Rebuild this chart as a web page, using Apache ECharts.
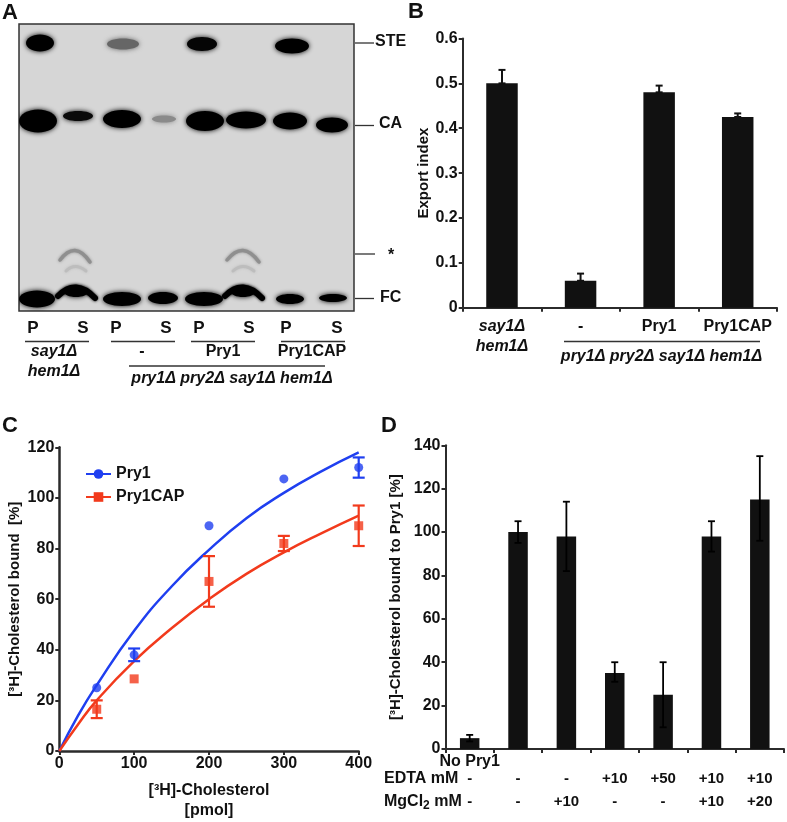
<!DOCTYPE html>
<html><head><meta charset="utf-8">
<style>html,body{margin:0;padding:0;background:#fff}#c{width:787px;height:822px}</style>
<script src="https://cdn.jsdelivr.net/npm/echarts@6/dist/echarts.min.js"></script>
</head><body><div id="c"></div>
<script>
// ---- Panel A: gel bands [lane position, migration, half width, half height, grey]
const gelBands = [
 [21,19,14,8.5,'#000'],[104,20,16,5.5,'#666'],[183,20,15,7,'#050505'],[273,22,17,7.5,'#000'],
 [19,97,19,11.5,'#000'],[59,92,15,5,'#0a0a0a'],[103,95,19,9,'#000'],[145,95,12,3.5,'#8a8a8a'],
 [186,97,19,10,'#000'],[227,96,20,8.5,'#000'],[271,97,17,8.5,'#000'],[313,101,16,7.5,'#000'],
 [18,275,18,8.5,'#000'],[103,275,19,7,'#000'],[144,274,15,6,'#000'],[185,275,19,7,'#000'],
 [271,275,14,5,'#000'],[314,274,14,4,'#000'],[57,268,12,5,'#000'],[224,268,12,5,'#000']
];
// [start x, start y, bend x, bend y, end x, end y, thickness, grey]
const gelArcs = [
 [39,272,57,254,76,274,6,'#000'],[206,272,224,254,243,274,6,'#000'],
 [41,234,56,240,70,240,0,'#d4d4d4'],
 [41,236,56,216,71,238,3.5,'#8f8f8f'],[208,236,224,216,240,238,3.5,'#8f8f8f'],
 [47,247,56,238,67,247,3,'#bdbdbd'],[214,247,224,238,235,247,3,'#bdbdbd']
];
const laneLabels = ['P','S','P','S','P','S','P','S'];
// ---- Panel B
const exportCategories = ['say1Δ\nhem1Δ','-','Pry1','Pry1CAP'];
const exportIndex = [0.5,0.06,0.48,0.425];
const exportErrorTop = [0.53,0.076,0.495,0.433];
const exportTicks = [0,0.1,0.2,0.3,0.4,0.5,0.6];
// ---- Panel C
const pry1Points = [[50,25],[100,38],[200,89],[300,107.5],[400,112]];
const pry1Errors = [[100,35.5,40.5],[400,108,116]];
const pry1Curve = [[0,0],[25,14],[50,26],[100,47.5],[150,65],[200,79.5],[250,92],[300,102],[350,110.5],[400,118]];
const capPoints = [[50,16.5],[100,28.5],[200,67],[300,82],[400,89]];
const capErrors = [[50,13,20],[200,57,77],[300,79,85],[400,81,97]];
const capCurve = [[0,0],[25,10.5],[50,20],[100,35.5],[150,48.5],[200,60],[250,70],[300,78.5],[350,86],[400,93]];
// ---- Panel D
const noPry1Labels = ['No Pry1','','','','','',''];
const edtaLabels = ['-','-','-','+10','+50','+10','+10'];
const mgLabels = ['-','-','+10','-','-','+10','+20'];
const boundValues = [5,100,98,35,25,98,115];
const boundErrLow = [3.5,95,82,31,10,91,96];
const boundErrHigh = [6.5,105,114,40,40,105,135];

const FONT = '"Liberation Sans", Arial, sans-serif';
const INK = '#111';
const BLUE = '#1f3ff0';
const RED = '#f23a1c';

function txt(x,y,text,o){o=o||{};return {type:'text',silent:true,x:x,y:y,style:Object.assign({
  text:text,fill:INK,font:(o.italic?'italic ':'')+'bold '+(o.size||16)+'px '+FONT,
  align:o.align||'center',verticalAlign:'middle'},o.rich?{rich:o.rich}:{})};}
function ln(x1,y1,x2,y2,w){return {type:'line',silent:true,shape:{x1,y1,x2,y2},style:{stroke:'#333',lineWidth:w||1.3}};}

const laneX=[33,83,116,166,199,249,286,337];
const graphics=[
 txt(2,13,'A',{align:'left',size:22}),txt(408,12,'B',{align:'left',size:22}),
 txt(2,426,'C',{align:'left',size:22}),txt(381,426,'D',{align:'left',size:22}),
 ln(355,43,374,43),ln(355,125.5,374,125.5),ln(355,254,375,254),ln(355,298.5,374,298.5),
 txt(375,42,'STE',{align:'left'}),txt(379,124,'CA',{align:'left'}),txt(391,256,'*'),txt(380,298,'FC',{align:'left'}),
 ln(25,341.5,89,341.5),ln(111,341.5,175,341.5),ln(191,341.5,255,341.5),ln(281,341.5,345,341.5),ln(129,366,325,366),
 txt(54,352,'say1Δ',{italic:1}),txt(54,372,'hem1Δ',{italic:1}),txt(142,352,'-'),txt(223,352,'Pry1'),txt(312,352,'Pry1CAP'),
 txt(232,379,'pry1Δ pry2Δ say1Δ hem1Δ',{italic:1}),
 ln(564,341.5,760,341.5),txt(661.5,357,'pry1Δ pry2Δ say1Δ hem1Δ',{italic:1}),
 txt(384,779,'EDTA mM',{align:'left'}),
 {type:'text',silent:true,x:384,y:802,style:{text:'MgCl{s|2} mM',fill:INK,font:'bold 16px '+FONT,align:'left',verticalAlign:'middle',
   rich:{s:{font:'bold 12px '+FONT,fill:INK,padding:[7,0,0,0]}}}}
];
laneLabels.forEach((t,i)=>graphics.push(txt(laneX[i],328,t,{size:17})));

const axisBase=(w)=>({axisLine:{show:true,onZero:false,lineStyle:{color:'#2b2b2b',width:w}},
  axisTick:{show:true,length:4,lineStyle:{color:'#2b2b2b',width:2}},splitLine:{show:false},
  axisLabel:{color:INK,fontFamily:FONT,fontWeight:'bold',fontSize:16,margin:5}});
const hiddenRow=(data,offset)=>({type:'category',gridIndex:3,position:'bottom',offset:offset,data:data,
  axisLine:{show:false},axisTick:{show:false},splitLine:{show:false},
  axisLabel:{color:INK,fontFamily:FONT,fontWeight:'bold',fontSize:15,interval:0,margin:5}});
const yName=(t,gap)=>({name:t,nameLocation:'middle',nameGap:gap,nameRotate:90,
  nameTextStyle:{color:INK,fontFamily:FONT,fontWeight:'bold',fontSize:15}});

function errorSeries(x,y,data,color,cap,w,z){
  return {type:'custom',xAxisIndex:x,yAxisIndex:y,z:z||5,silent:true,data:data,encode:{x:0,y:[1,2]},
   renderItem(p,api){
    const a=api.coord([api.value(0),api.value(1)]),b=api.coord([api.value(0),api.value(2)]);
    const st={stroke:color,lineWidth:w};
    const seg=(x1,y1,x2,y2)=>({type:'line',shape:{x1,y1,x2,y2},style:st});
    return {type:'group',children:[seg(a[0],a[1],b[0],b[1]),seg(b[0]-cap,b[1],b[0]+cap,b[1]),seg(a[0]-cap,a[1],a[0]+cap,a[1])]};
   }};
}

const option={
 animation:false,backgroundColor:'#fff',textStyle:{fontFamily:FONT},
 grid:[
  {left:19,top:24,width:335,height:287,show:true,backgroundColor:'#d6d6d6',borderColor:'#333',borderWidth:1.5},
  {left:462.7,top:38.5,width:314.3,height:269.2},
  {left:59.3,top:447.3,width:299.4,height:303.7},
  {left:445.5,top:445.3,width:338.5,height:303.7}
 ],
 legend:{orient:'vertical',left:80,top:461,itemWidth:25,itemHeight:12,itemGap:7,data:['Pry1','Pry1CAP'],
   textStyle:{color:INK,fontFamily:FONT,fontWeight:'bold',fontSize:16},selectedMode:false},
 xAxis:[
  {type:'value',gridIndex:0,min:0,max:335,show:false},
  Object.assign(axisBase(2),{type:'category',gridIndex:1,data:exportCategories,
    axisLabel:Object.assign(axisBase(2).axisLabel,{margin:9,interval:0,lineHeight:20,
      formatter:(v,i)=>i===0?v.split('\n').map(s=>'{i|'+s+'}').join('\n'):v,
      rich:{i:{fontStyle:'italic',fontWeight:'bold',fontSize:16,fontFamily:FONT,color:INK,lineHeight:20}}})}),
  Object.assign(axisBase(2.5),{type:'value',gridIndex:2,min:0,max:400,interval:100,
    name:'[³H]-Cholesterol\n[pmol]',nameLocation:'middle',nameGap:30,
    nameTextStyle:{color:INK,fontFamily:FONT,fontWeight:'bold',fontSize:16,lineHeight:20,verticalAlign:'top'}}),
  Object.assign(axisBase(2),{type:'category',gridIndex:3,data:noPry1Labels,
    axisLabel:Object.assign(axisBase(2).axisLabel,{interval:0,margin:5})}),
  hiddenRow(edtaLabels,17),
  hiddenRow(mgLabels,40)
 ],
 yAxis:[
  {type:'value',gridIndex:0,min:0,max:287,inverse:true,show:false},
  Object.assign(axisBase(2),{type:'value',gridIndex:1,min:0,max:0.6,interval:0.1},yName('Export index',26)),
  Object.assign(axisBase(2.5),{type:'value',gridIndex:2,min:0,max:120,interval:20},yName('[³H]-Cholesterol bound  [%]',37)),
  Object.assign(axisBase(2),{type:'value',gridIndex:3,min:0,max:140,interval:20},yName('[³H]-Cholesterol bound to Pry1 [%]',42))
 ],
 graphic:graphics,
 series:[
  {type:'custom',xAxisIndex:0,yAxisIndex:0,silent:true,data:gelBands,clip:true,z:2,
   renderItem(p,api){
    const c=api.coord([api.value(0),api.value(1)]),col=gelBands[p.dataIndex][4];
    return {type:'ellipse',shape:{cx:c[0],cy:c[1],rx:api.value(2),ry:api.value(3)},
      style:{fill:col,shadowBlur:5,shadowColor:col}};
   }},
  {type:'custom',xAxisIndex:0,yAxisIndex:0,silent:true,data:gelArcs.filter(a=>a[6]>0),clip:true,z:3,
   encode:{x:0,y:1},
   renderItem(p,api){
    const s=api.coord([api.value(0),api.value(1)]),m=api.coord([api.value(2),api.value(3)]),e=api.coord([api.value(4),api.value(5)]);
    const col=gelArcs.filter(a=>a[6]>0)[p.dataIndex][7];
    return {type:'bezierCurve',shape:{x1:s[0],y1:s[1],cpx1:m[0],cpy1:m[1],x2:e[0],y2:e[1]},
      style:{stroke:col,fill:'none',lineWidth:api.value(6),lineCap:'round',shadowBlur:3,shadowColor:col}};
   }},
  {type:'bar',xAxisIndex:1,yAxisIndex:1,data:exportIndex,barWidth:31.5,itemStyle:{color:INK},silent:true},
  errorSeries(1,1,exportIndex.map((v,i)=>[i,v,exportErrorTop[i]]),INK,3.5,2),
  {name:'Pry1',type:'line',xAxisIndex:2,yAxisIndex:2,data:pry1Curve,smooth:true,symbol:'circle',showSymbol:false,
   lineStyle:{color:BLUE,width:2.5},itemStyle:{color:BLUE},silent:true,z:3},
  {name:'Pry1CAP',type:'line',xAxisIndex:2,yAxisIndex:2,data:capCurve,smooth:true,symbol:'rect',showSymbol:false,
   lineStyle:{color:RED,width:2.5},itemStyle:{color:RED},silent:true,z:3},
  {name:'Pry1 points',type:'scatter',xAxisIndex:2,yAxisIndex:2,data:pry1Points,symbol:'circle',symbolSize:9,itemStyle:{color:BLUE},silent:true,z:4},
  {name:'Pry1CAP points',type:'scatter',xAxisIndex:2,yAxisIndex:2,data:capPoints,symbol:'rect',symbolSize:9,itemStyle:{color:RED},silent:true,z:4},
  errorSeries(2,2,pry1Errors,BLUE,6,2.2),
  errorSeries(2,2,capErrors,RED,6,2.2),
  {type:'bar',xAxisIndex:3,yAxisIndex:3,data:boundValues,barWidth:19.5,itemStyle:{color:INK},silent:true},
  errorSeries(3,3,boundValues.map((v,i)=>[i,boundErrLow[i],boundErrHigh[i]]),'#000',3.5,1.8)
 ]
};
echarts.init(document.getElementById('c'),null,{renderer:'canvas'}).setOption(option);
</script></body></html>
